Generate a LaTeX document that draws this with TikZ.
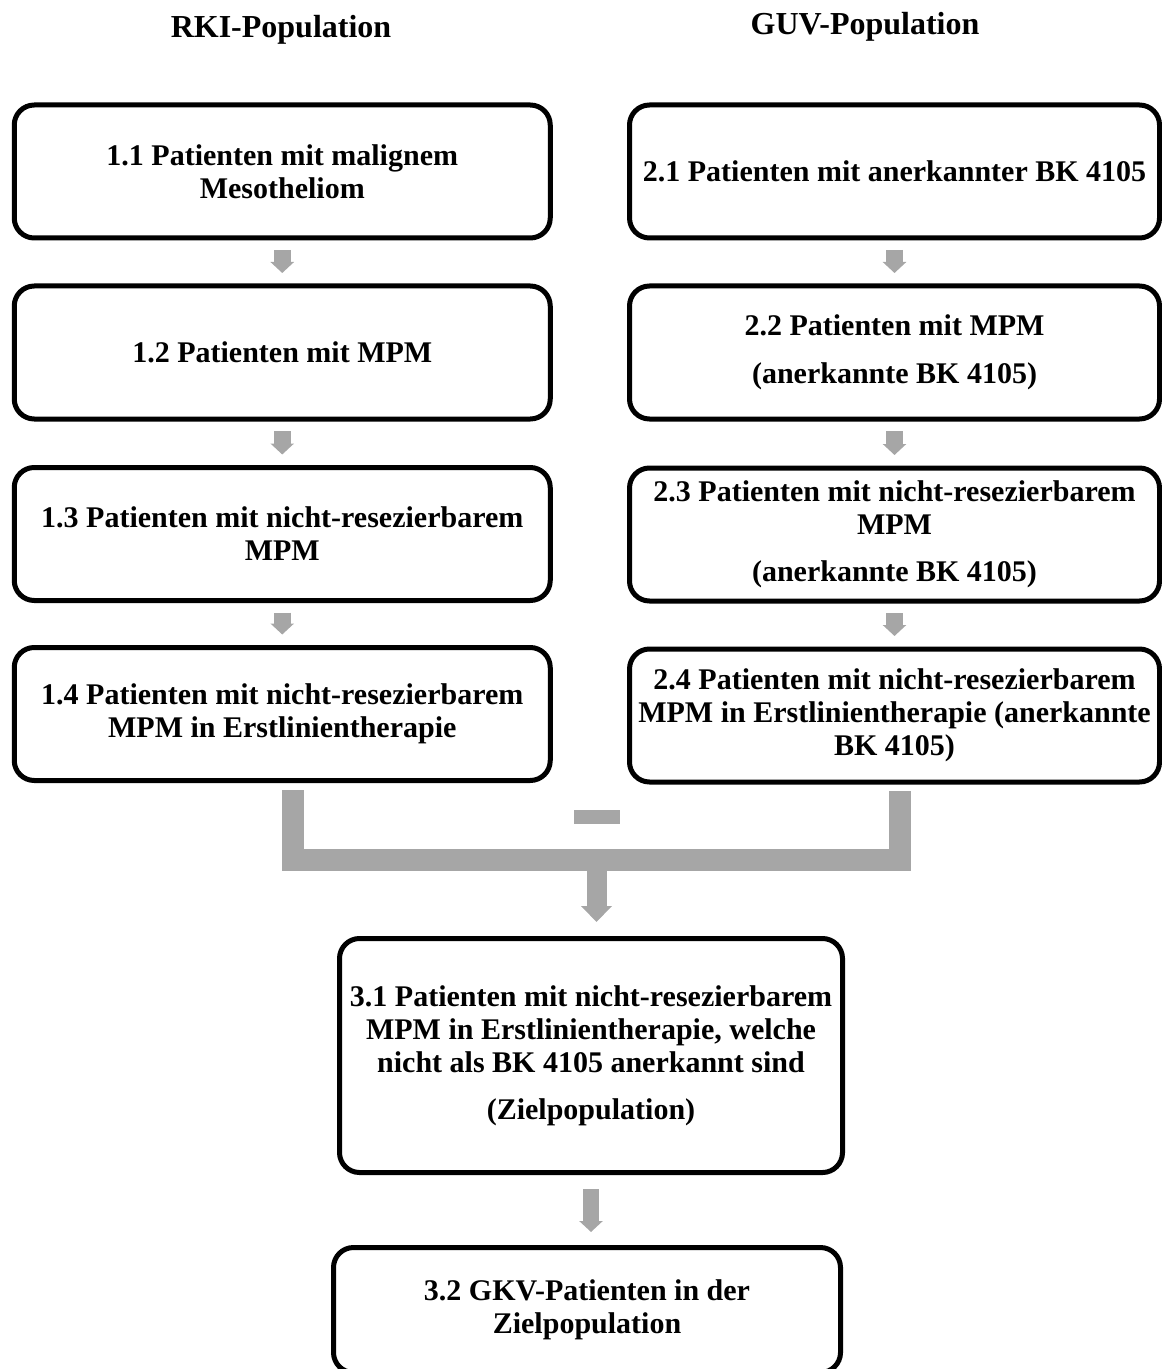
\documentclass[tikz,border=0pt]{standalone}
\usepackage{fontspec}
\setmainfont{Liberation Serif}
\usetikzlibrary{arrows.meta}
\definecolor{flowgray}{HTML}{A6A6A6}
\begin{document}
\begin{tikzpicture}[x=0.5pt, y=-0.5pt,
  box/.style={draw, line width=2.5pt, rounded corners=10pt, align=center, inner sep=0pt, font=\bfseries\fontsize{15}{16.5}\selectfont},
  colbox/.style={box, minimum width=265pt, minimum height=66.5pt},
  title/.style={font=\bfseries\fontsize{16}{18}\selectfont},
  smallarrow/.style={flowgray, line width=8.5pt, -{Triangle[width=11.5pt, length=5.5pt]}, shorten <=4.75pt, shorten >=5.25pt},
  bracket/.style={flowgray, line width=11pt, miter limit=10},
  minusbar/.style={fill=flowgray, minimum width=23pt, minimum height=7pt, inner sep=0pt}]
\useasboundingbox (0, 0) rectangle (1161, 1369);

\node[title] (rki) at (281, 30) {RKI-Population};
\node[title] (guv) at (865, 27) {GUV-Population};

\node[colbox, minimum width=268pt] (n11) at (282.25, 171.5) {1.1 Patienten mit malignem\\Mesotheliom};
\node[colbox, minimum width=268pt] (n12) at (282.25, 352.5) {1.2 Patienten mit MPM};
\node[colbox, minimum width=268pt] (n13) at (282.25, 534) {1.3 Patienten mit nicht-resezierbarem\\MPM};
\node[colbox, minimum width=268pt] (n14) at (282.25, 714) {1.4 Patienten mit nicht-resezierbarem\\MPM in Erstlinientherapie};

\node[colbox] (n21) at (894.5, 171.5) {2.1 Patienten mit anerkannter BK 4105};
\node[colbox] (n22) at (894.5, 352.5) {2.2 Patienten mit MPM\\[7.5pt](anerkannte BK 4105)};
\node[colbox] (n23) at (894.5, 534.5) {2.3 Patienten mit nicht-resezierbarem\\MPM\\[7pt](anerkannte BK 4105)};
\node[colbox] (n24) at (894.5, 715.5) {2.4 Patienten mit nicht-resezierbarem\\MPM in Erstlinientherapie (anerkannte\\BK 4105)};

\node[box, minimum width=251.5pt, minimum height=117pt] (n31) at (591, 1055.5) {3.1 Patienten mit nicht-resezierbarem\\MPM in Erstlinientherapie, welche\\nicht als BK 4105 anerkannt sind\\[7pt](Zielpopulation)};
\node[box, minimum width=253.5pt, minimum height=62.5pt] (n32) at (587, 1310) {3.2 GKV-Patienten in der\\Zielpopulation};

\draw[smallarrow] (n11) -- (n12);
\draw[smallarrow] (n12) -- (n13);
\draw[smallarrow] (n13) -- (n14);
\draw[smallarrow] (n21) -- (n22);
\draw[smallarrow] (n22) -- (n23);
\draw[smallarrow] (n23) -- (n24);

\node[minusbar] (minus) at (597, 817) {};
\coordinate (lbar) at (292.5, 790);
\coordinate (rbar) at (899.5, 791);
\coordinate (join) at (596.5, 859.5);
\draw[bracket] (lbar) -- (lbar |- join) -- (rbar |- join) -- (rbar);
\draw[flowgray, line width=10pt, -{Triangle[width=15pt, length=8pt]}, shorten >=7pt] (join) -- (join |- n31.north);

\draw[flowgray, line width=8pt, -{Triangle[width=11.5pt, length=5.5pt]}, shorten <=7pt, shorten >=6.5pt] (n31) -- (n31 |- n32.north);
\end{tikzpicture}
\end{document}
